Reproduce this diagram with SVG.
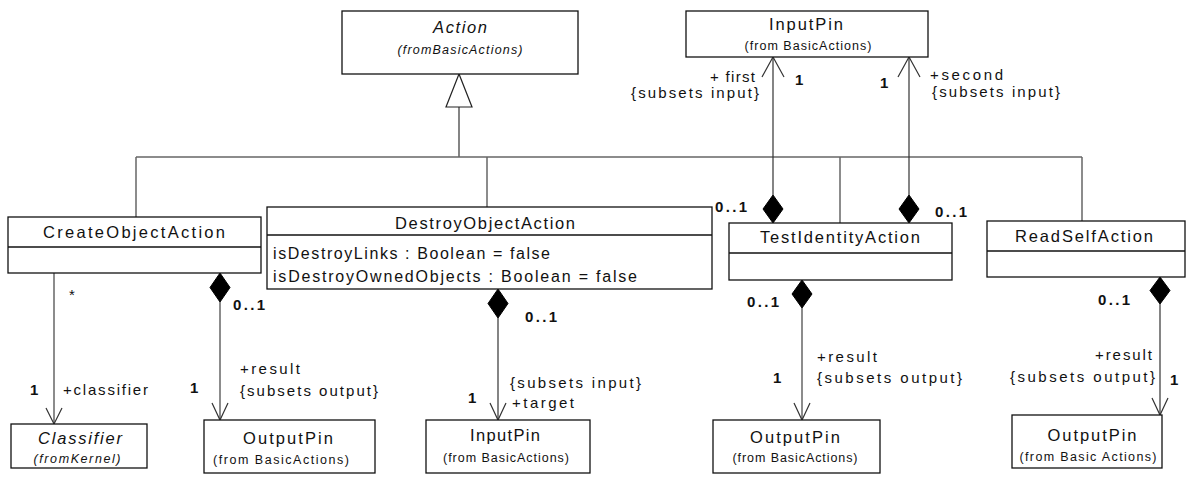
<svg xmlns="http://www.w3.org/2000/svg" width="1187" height="478" viewBox="0 0 1187 478">
<style>
text{font-family:"Liberation Sans",Arial,sans-serif;fill:#111}
.box{fill:#fff;stroke:#111;stroke-width:1.3}
.sep{stroke:#111;stroke-width:1.3}
.nm{font-size:16.5px;text-anchor:middle}
.it{font-style:italic}
.fr{font-size:12.5px;text-anchor:middle}
.at{font-size:16px}
.lb{font-size:15px}
.mu{font-size:15px;font-weight:bold}
.ln{stroke:#333;stroke-width:1.2;fill:none}
.gl{stroke:#666;stroke-width:1.5;fill:none}
.dia{fill:#000;stroke:#000}
.arr{fill:none;stroke:#333;stroke-width:1.2}
</style>
<g id="connectors">
<line class="ln" x1="459" y1="107" x2="459" y2="157"/>
<polygon points="459,74 446,107 472,107" fill="#fff" stroke="#222" stroke-width="1.2"/>
<line class="gl" x1="136" y1="157" x2="1082" y2="157"/>
<line class="gl" x1="136" y1="157" x2="136" y2="217"/>
<line class="gl" x1="487" y1="157" x2="487" y2="207"/>
<line class="gl" x1="840" y1="157" x2="840" y2="223"/>
<line class="gl" x1="1082" y1="157" x2="1082" y2="221"/>
<line class="ln" x1="773" y1="57" x2="773" y2="195"/>
<polyline class="arr" points="762,77 773,57 784,77"/>
<polygon class="dia" points="773,195 783,209 773,223 763,209"/>
<line class="ln" x1="909" y1="57" x2="909" y2="195"/>
<polyline class="arr" points="898,77 909,57 920,77"/>
<polygon class="dia" points="909,195 919,209 909,223 899,209"/>
<line class="gl" x1="54" y1="273" x2="54" y2="424"/>
<polyline class="arr" points="46,408 54,424 62,408"/>
<polygon class="dia" points="220,273 230,287.5 220,302 210,287.5"/>
<line class="gl" x1="220" y1="302" x2="220" y2="420"/>
<polyline class="arr" points="212,403 220,420 228,403"/>
<polygon class="dia" points="498,289 508,303.5 498,318 488,303.5"/>
<line class="ln" x1="498" y1="318" x2="498" y2="420"/>
<polyline class="arr" points="490,403 498,420 506,403"/>
<polygon class="dia" points="802,280 812,294 802,308 792,294"/>
<line class="gl" x1="802" y1="308" x2="802" y2="420"/>
<polyline class="arr" points="794,403 802,420 810,403"/>
<polygon class="dia" points="1160,277 1170,290.5 1160,304 1150,290.5"/>
<line class="ln" x1="1160" y1="304" x2="1160" y2="415"/>
<polyline class="arr" points="1152,398 1160,415 1168,398"/>
<text class="lb" x="755" y="82" text-anchor="end" textLength="45">+ first</text>
<text class="lb" x="631" y="98" textLength="128">{subsets input}</text>
<text class="mu" x="795" y="85">1</text>
<text class="mu" x="880" y="88">1</text>
<text class="lb" x="930" y="80" textLength="73">+second</text>
<text class="lb" x="932" y="97" textLength="128">{subsets input}</text>
<text class="mu" x="715" y="212" textLength="32">0..1</text>
<text class="mu" x="935" y="217" textLength="32">0..1</text>
<text class="lb" x="69" y="300">*</text>
<text class="mu" x="30" y="395">1</text>
<text class="lb" x="63" y="395" textLength="85">+classifier</text>
<text class="mu" x="233" y="310" textLength="32">0..1</text>
<text class="mu" x="190" y="393">1</text>
<text class="lb" x="240" y="374" textLength="60">+result</text>
<text class="lb" x="240" y="396" textLength="138">{subsets output}</text>
<text class="mu" x="525" y="322" textLength="32">0..1</text>
<text class="lb" x="510" y="388" textLength="131">{subsets input}</text>
<text class="lb" x="512" y="408" textLength="62">+target</text>
<text class="mu" x="468" y="403">1</text>
<text class="mu" x="747" y="307" textLength="32">0..1</text>
<text class="mu" x="773" y="383">1</text>
<text class="lb" x="817" y="362" textLength="60">+result</text>
<text class="lb" x="817" y="383" textLength="145">{subsets output}</text>
<text class="mu" x="1098" y="305" textLength="32">0..1</text>
<text class="lb" x="1152" y="360" text-anchor="end" textLength="57">+result</text>
<text class="lb" x="1010" y="382" textLength="145">{subsets output}</text>
<text class="mu" x="1170" y="385">1</text>
</g>
<g id="Action">
<rect class="box" x="342" y="11" width="236" height="63"/>
<text class="nm it" x="460" y="33" font-size="17" textLength="54">Action</text>
<text class="fr it" x="460" y="54" textLength="125">(fromBasicActions)</text>
</g>
<g id="InputPinTop">
<rect class="box" x="686" y="11" width="242" height="46"/>
<text class="nm" x="806" y="30" textLength="74">InputPin</text>
<text class="fr" x="808" y="50" textLength="127">(from BasicActions)</text>
</g>
<g id="CreateObjectAction">
<rect class="box" x="8" y="217" width="253" height="56"/>
<line class="sep" x1="8" y1="247" x2="261" y2="247"/>
<text class="nm" x="134" y="238" textLength="182">CreateObjectAction</text>
</g>
<g id="DestroyObjectAction">
<rect class="box" x="267" y="207" width="445" height="82"/>
<line class="sep" x1="267" y1="235" x2="712" y2="235"/>
<text class="nm" x="485" y="229" textLength="180">DestroyObjectAction</text>
<text class="at" x="273" y="259" textLength="277">isDestroyLinks : Boolean = false</text>
<text class="at" x="273" y="282" textLength="364">isDestroyOwnedObjects : Boolean = false</text>
</g>
<g id="TestIdentityAction">
<rect class="box" x="729" y="223" width="223" height="57"/>
<line class="sep" x1="729" y1="253" x2="952" y2="253"/>
<text class="nm" x="840" y="243" textLength="160">TestIdentityAction</text>
</g>
<g id="ReadSelfAction">
<rect class="box" x="987" y="221" width="198" height="56"/>
<line class="sep" x1="987" y1="251" x2="1185" y2="251"/>
<text class="nm" x="1084" y="242" textLength="138">ReadSelfAction</text>
</g>
<g id="Classifier">
<rect class="box" x="11" y="424" width="136" height="44"/>
<text class="nm it" x="80" y="444" textLength="84">Classifier</text>
<text class="fr it" x="77" y="463" textLength="87">(fromKernel)</text>
</g>
<g id="OutputPin1">
<rect class="box" x="204" y="420" width="171" height="53"/>
<text class="nm" x="288" y="444" textLength="90">OutputPin</text>
<text class="fr" x="281" y="464" textLength="136">(from BasicActions)</text>
</g>
<g id="InputPinBottom">
<rect class="box" x="426" y="420" width="164" height="53"/>
<text class="nm" x="505" y="441" textLength="70">InputPin</text>
<text class="fr" x="506" y="462" textLength="126">(from BasicActions)</text>
</g>
<g id="OutputPin2">
<rect class="box" x="713" y="420" width="167" height="53"/>
<text class="nm" x="795" y="443" textLength="90">OutputPin</text>
<text class="fr" x="795" y="462" textLength="125">(from BasicActions)</text>
</g>
<g id="OutputPin3">
<rect class="box" x="1012" y="415" width="150" height="53"/>
<text class="nm" x="1092" y="441" textLength="89">OutputPin</text>
<text class="fr" x="1088" y="461" textLength="137">(from Basic Actions)</text>
</g>
</svg>
